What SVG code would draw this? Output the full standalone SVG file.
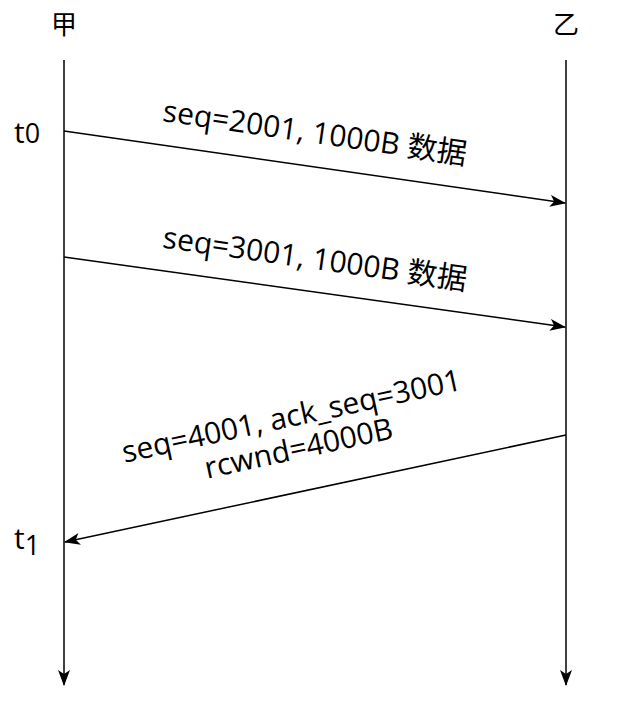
<svg xmlns="http://www.w3.org/2000/svg" width="618" height="704" viewBox="0 0 618 704">
<style>
.t{font-family:"Open Sans","Noto Sans CJK SC",sans-serif;font-size:30px;fill:#000}
.c{font-family:"Noto Sans CJK SC",sans-serif;font-size:26px;fill:#000}
.ln{stroke:#000;stroke-width:1.5;fill:none}
</style>
<defs>
<marker id="ah2" viewBox="0 0 16 12" refX="15" refY="6" markerWidth="16" markerHeight="12" markerUnits="userSpaceOnUse" orient="auto">
<path d="M0,0 L16,6 L0,12 L4,6 Z" fill="#000"/>
</marker>
</defs>
<g id="node-jia"><text class="c" x="64" y="34" text-anchor="middle">甲</text></g>
<g id="node-yi"><text class="c" x="566" y="34" text-anchor="middle">乙</text></g>
<g id="label-t0"><text class="t" x="14" y="143" font-size="29">t<tspan font-size="27">0</tspan></text></g>
<g id="label-t1"><text class="t" x="14" y="549" font-size="29">t<tspan font-size="27" dy="6">1</tspan></text></g>
<g id="connectors">
<line class="ln" x1="64" y1="60" x2="64" y2="685" marker-end="url(#ah2)"/>
<line class="ln" x1="566" y1="60" x2="566" y2="685" marker-end="url(#ah2)"/>
<line class="ln" x1="64" y1="131" x2="565" y2="203" marker-end="url(#ah2)"/>
<line class="ln" x1="64" y1="257" x2="565" y2="327" marker-end="url(#ah2)"/>
<line class="ln" x1="566" y1="435" x2="65" y2="542" marker-end="url(#ah2)"/>
</g>
<g id="label-1"><text class="t" x="315" y="143" text-anchor="middle" transform="rotate(8.2 315 133)">seq=2001, 1000B 数据</text></g>
<g id="label-2"><text class="t" x="315" y="269" text-anchor="middle" transform="rotate(8 315 259)">seq=3001, 1000B 数据</text></g>
<g id="label-3" transform="rotate(-12.2 295 432)">
<text class="t" x="295" y="426" text-anchor="middle">seq=4001, ack_seq=3001</text>
<text class="t" x="295" y="459" text-anchor="middle">rcwnd=4000B</text>
</g>
</svg>
